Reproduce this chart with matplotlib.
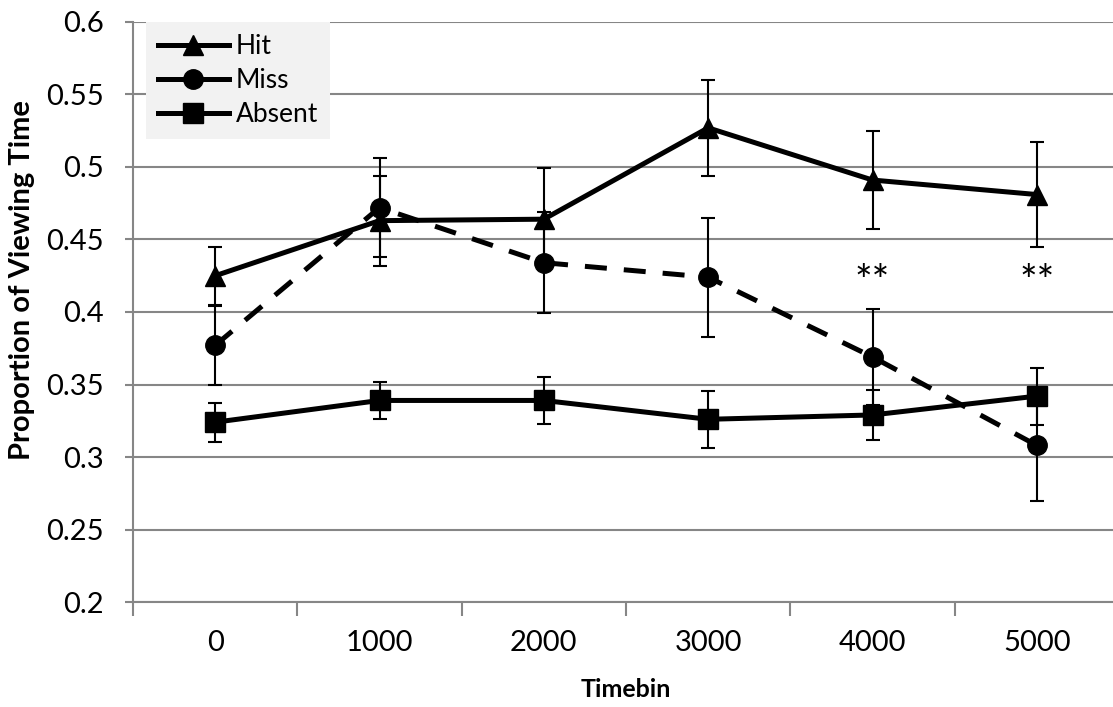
import matplotlib.pyplot as plt
from matplotlib.lines import Line2D

# mean proportion of viewing time per timebin, with error bar half-widths
timebins = ["0", "1000", "2000", "3000", "4000", "5000"]
hit = [0.425, 0.463, 0.464, 0.527, 0.491, 0.481]
hit_err = [0.020, 0.031, 0.035, 0.033, 0.034, 0.036]
miss = [0.377, 0.472, 0.434, 0.424, 0.369, 0.308]
miss_err = [0.027, 0.034, 0.035, 0.041, 0.033, 0.038]
absent = [0.324, 0.339, 0.339, 0.326, 0.329, 0.342]
absent_err = [0.0135, 0.0127, 0.016, 0.0195, 0.0175, 0.0196]
stars = {4: "**", 5: "**"}
star_y = 0.420

plt.rcParams['font.family'] = ['Lato', 'DejaVu Sans']

fig = plt.figure(figsize=(11.13, 7.07), dpi=100)
ax = fig.add_axes([0.1195, 0.1485, 0.8859, 0.8204])

x = list(range(len(timebins)))
common = dict(color='black', ecolor='black', elinewidth=1.5, capsize=5,
              capthick=1.5, lw=3.6)

ax.errorbar(x, hit, yerr=hit_err, marker='^', ms=14, zorder=3, **common)
ax.errorbar(x, miss, yerr=miss_err, marker='o', ms=14, zorder=3,
            dashes=(4.4, 3.4), **common)
ax.errorbar(x, absent, yerr=absent_err, marker='s', ms=14, zorder=3, **common)

for i, s in stars.items():
    ax.text(x[i], star_y, s, ha='center', va='center', fontsize=30)

ax.set_xlim(-0.5, len(timebins) - 0.5)
ax.set_ylim(0.2, 0.6)
ax.set_yticks([0.2, 0.25, 0.3, 0.35, 0.4, 0.45, 0.5, 0.55, 0.6])
ax.set_yticklabels(["0.2", "0.25", "0.3", "0.35", "0.4", "0.45", "0.5", "0.55", "0.6"])
ax.set_xticks(x)
ax.set_xticklabels(timebins)
ax.set_xticks([i - 0.5 for i in range(len(timebins) + 1)], minor=True)

grid_c = '#868686'
ax.grid(axis='y', color=grid_c, lw=1.5, zorder=0)
ax.set_axisbelow(True)
for side in ['top', 'right']:
    ax.spines[side].set_visible(False)
for side in ['left', 'bottom']:
    ax.spines[side].set_color(grid_c)
    ax.spines[side].set_linewidth(1.5)

ax.tick_params(axis='y', length=6, width=1.5, color=grid_c, labelsize=21, pad=15)
ax.tick_params(axis='x', which='major', length=0, labelsize=21, pad=20)
ax.tick_params(axis='x', which='minor', length=10, width=1.5, color=grid_c)

ax.set_xlabel("Timebin", fontsize=18, fontweight='bold', labelpad=16)
ax.set_ylabel("Proportion of Viewing Time", fontsize=21, fontweight='bold')
ax.yaxis.set_label_coords(-0.099, 0.555)

handles = [
    Line2D([], [], color='black', lw=3.6, marker='^', ms=14),
    Line2D([], [], color='black', lw=3.6, marker='o', ms=14),
    Line2D([], [], color='black', lw=3.6, marker='s', ms=14),
]
leg = ax.legend(handles, ["Hit", "Miss", "Absent"], loc='upper left',
                bbox_to_anchor=(0.013, 1.0), fontsize=19, frameon=True,
                fancybox=False, handlelength=2.7, handletextpad=0.25,
                labelspacing=0.35, borderpad=0.45, borderaxespad=0)
leg.get_frame().set_facecolor('#f2f2f2')
leg.get_frame().set_edgecolor('none')
leg.get_frame().set_alpha(1)

fig.savefig("out.png", dpi=100)
